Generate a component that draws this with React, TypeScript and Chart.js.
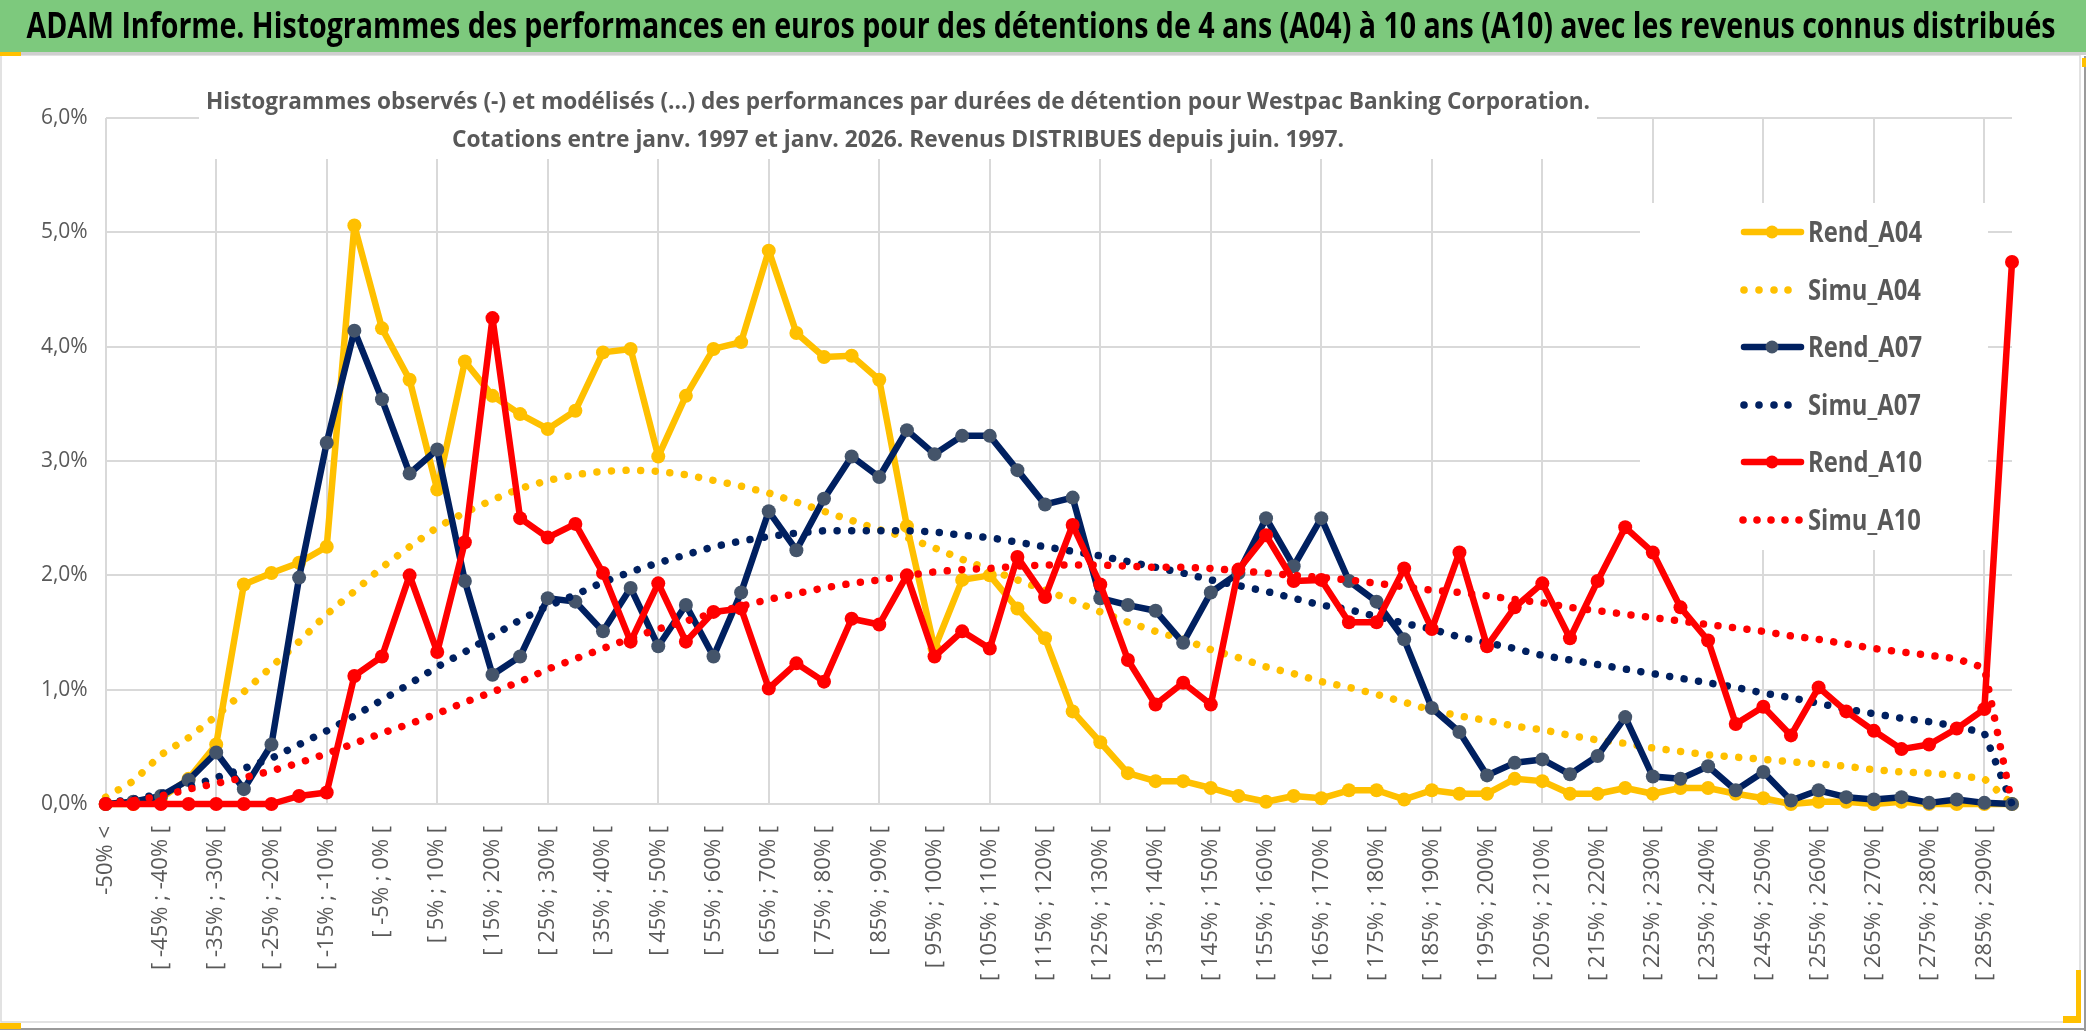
import React, { useEffect, useRef } from 'react';
import { Chart, registerables } from 'chart.js';

Chart.register(...registerables);

// ---------- DATA ----------
const categories = [
  '-50% <', '[ -50% ; -45% [', '[ -45% ; -40% [', '[ -40% ; -35% [', '[ -35% ; -30% [',
  '[ -30% ; -25% [', '[ -25% ; -20% [', '[ -20% ; -15% [', '[ -15% ; -10% [', '[ -10% ; -5% [',
  '[ -5% ; 0% [', '[ 0% ; 5% [', '[ 5% ; 10% [', '[ 10% ; 15% [', '[ 15% ; 20% [',
  '[ 20% ; 25% [', '[ 25% ; 30% [', '[ 30% ; 35% [', '[ 35% ; 40% [', '[ 40% ; 45% [',
  '[ 45% ; 50% [', '[ 50% ; 55% [', '[ 55% ; 60% [', '[ 60% ; 65% [', '[ 65% ; 70% [',
  '[ 70% ; 75% [', '[ 75% ; 80% [', '[ 80% ; 85% [', '[ 85% ; 90% [', '[ 90% ; 95% [',
  '[ 95% ; 100% [', '[ 100% ; 105% [', '[ 105% ; 110% [', '[ 110% ; 115% [', '[ 115% ; 120% [',
  '[ 120% ; 125% [', '[ 125% ; 130% [', '[ 130% ; 135% [', '[ 135% ; 140% [', '[ 140% ; 145% [',
  '[ 145% ; 150% [', '[ 150% ; 155% [', '[ 155% ; 160% [', '[ 160% ; 165% [', '[ 165% ; 170% [',
  '[ 170% ; 175% [', '[ 175% ; 180% [', '[ 180% ; 185% [', '[ 185% ; 190% [', '[ 190% ; 195% [',
  '[ 195% ; 200% [', '[ 200% ; 205% [', '[ 205% ; 210% [', '[ 210% ; 215% [', '[ 215% ; 220% [',
  '[ 220% ; 225% [', '[ 225% ; 230% [', '[ 230% ; 235% [', '[ 235% ; 240% [', '[ 240% ; 245% [',
  '[ 245% ; 250% [', '[ 250% ; 255% [', '[ 255% ; 260% [', '[ 260% ; 265% [', '[ 265% ; 270% [',
  '[ 270% ; 275% [', '[ 275% ; 280% [', '[ 280% ; 285% [', '[ 285% ; 290% [', '> 290%',
];

// values in percent
const rendA04 = [
  0, 0, 0.05, 0.22, 0.52, 1.92, 2.02, 2.11, 2.25, 5.06,
  4.16, 3.71, 2.75, 3.87, 3.57, 3.41, 3.28, 3.44, 3.95, 3.98,
  3.04, 3.57, 3.98, 4.04, 4.84, 4.12, 3.91, 3.92, 3.71, 2.43,
  1.36, 1.96, 2.0, 1.71, 1.45, 0.81, 0.54, 0.27, 0.2, 0.2,
  0.14, 0.07, 0.02, 0.07, 0.05, 0.12, 0.12, 0.04, 0.12, 0.09,
  0.09, 0.22, 0.2, 0.09, 0.09, 0.14, 0.09, 0.14, 0.14, 0.09,
  0.05, 0.0, 0.02, 0.02, 0.0, 0.02, 0.0, 0.0, 0.0, 0.0,
];
const simuA04 = [
  0.06, 0.2, 0.43, 0.58, 0.77, 0.98, 1.2, 1.42, 1.66, 1.86,
  2.07, 2.25, 2.42, 2.55, 2.66, 2.76, 2.83, 2.88, 2.91, 2.92,
  2.91, 2.88, 2.83, 2.78, 2.72, 2.64, 2.56, 2.48, 2.4, 2.33,
  2.24, 2.14, 2.05, 1.96, 1.87, 1.78, 1.68, 1.59, 1.51, 1.44,
  1.35, 1.28, 1.2, 1.14, 1.07, 1.02, 0.96, 0.89, 0.82, 0.77,
  0.73, 0.68, 0.65, 0.6, 0.56, 0.53, 0.49, 0.46, 0.43, 0.41,
  0.39, 0.37, 0.35, 0.33, 0.3, 0.28, 0.27, 0.25, 0.22, 0.0,
];
const rendA07 = [
  0, 0.02, 0.07, 0.21, 0.45, 0.13, 0.52, 1.98, 3.16, 4.14,
  3.54, 2.89, 3.1, 1.95, 1.13, 1.29, 1.8, 1.77, 1.51, 1.89,
  1.38, 1.74, 1.29, 1.85, 2.56, 2.22, 2.67, 3.04, 2.86, 3.27,
  3.06, 3.22, 3.22, 2.92, 2.62, 2.68, 1.8, 1.74, 1.69, 1.41,
  1.85, 2.02, 2.5, 2.08, 2.5, 1.95, 1.77, 1.44, 0.84, 0.63,
  0.25, 0.36, 0.39, 0.26, 0.42, 0.76, 0.24, 0.22, 0.33, 0.12,
  0.28, 0.03, 0.12, 0.06, 0.04, 0.06, 0.01, 0.04, 0.01, 0.0,
];
const simuA07 = [
  0.01, 0.04, 0.09, 0.15, 0.23, 0.31, 0.4, 0.52, 0.64, 0.77,
  0.91, 1.05, 1.2, 1.33, 1.47, 1.61, 1.73, 1.83, 1.94, 2.03,
  2.11, 2.18, 2.25, 2.3, 2.34, 2.37, 2.39, 2.39, 2.39, 2.39,
  2.38, 2.35, 2.33, 2.29, 2.25, 2.21, 2.17, 2.12, 2.07, 2.02,
  1.96, 1.91, 1.86, 1.8, 1.74, 1.7, 1.64, 1.58, 1.53, 1.46,
  1.41, 1.36, 1.3, 1.26, 1.22, 1.18, 1.14, 1.1, 1.06, 1.02,
  0.97, 0.93, 0.88, 0.83, 0.79, 0.75, 0.72, 0.68, 0.62, 0.0,
];
const rendA10 = [
  0, 0, 0, 0, 0, 0, 0, 0.07, 0.1, 1.12,
  1.29, 2.0, 1.33, 2.29, 4.25, 2.5, 2.33, 2.45, 2.02, 1.42,
  1.93, 1.42, 1.68, 1.71, 1.01, 1.23, 1.07, 1.62, 1.57, 2.0,
  1.29, 1.51, 1.36, 2.16, 1.81, 2.44, 1.92, 1.26, 0.87, 1.06,
  0.87, 2.05, 2.35, 1.95, 1.96, 1.59, 1.59, 2.06, 1.53, 2.2,
  1.38, 1.72, 1.93, 1.45, 1.95, 2.42, 2.2, 1.72, 1.43, 0.7,
  0.85, 0.6, 1.02, 0.81, 0.64, 0.48, 0.52, 0.66, 0.83, 4.74,
];
const simuA10 = [
  0.01, 0.03, 0.07, 0.13, 0.18, 0.23, 0.29, 0.36, 0.44, 0.53,
  0.62, 0.7, 0.79, 0.89, 0.98, 1.07, 1.18, 1.27, 1.36, 1.45,
  1.53, 1.6, 1.67, 1.73, 1.79, 1.84, 1.89, 1.93, 1.96, 2.0,
  2.03, 2.05, 2.06, 2.08, 2.09, 2.09, 2.09, 2.08, 2.07, 2.07,
  2.06, 2.04, 2.02, 2.0, 1.98, 1.96, 1.93, 1.9, 1.87, 1.85,
  1.82, 1.79, 1.76, 1.72, 1.69, 1.66, 1.63, 1.6, 1.57, 1.54,
  1.51, 1.47, 1.44, 1.4, 1.36, 1.33, 1.3, 1.27, 1.19, 0.0,
];

const yTickValues = [0, 1, 2, 3, 4, 5, 6];
const seriesNames = ['Rend_A04', 'Simu_A04', 'Rend_A07', 'Simu_A07', 'Rend_A10', 'Simu_A10'];
const mainTitle =
  'ADAM Informe. Histogrammes des performances en euros pour des détentions de 4 ans (A04) à 10 ans (A10) avec les revenus connus distribués';
const subtitleLines = [
  'Histogrammes observés (-) et modélisés (...) des performances par durées de détention pour Westpac Banking Corporation.',
  'Cotations entre janv. 1997 et janv. 2026. Revenus DISTRIBUES depuis juin. 1997.',
];

// ---------- STYLE ----------
const YELLOW = '#FFC000';
const NAVY = '#002060';
const NAVY_MARK = '#44546A';
const RED = '#FF0000';
const GRID = '#d9d9d9';
const TEXT = '#595959';
const FONT = "'Open Sans', 'Liberation Sans', sans-serif";

const W = 2086;
const H = 1031;
const AREA_LEFT = 105.7;
const AREA_RIGHT = 2012;
const AREA_TOP = 118;
const AREA_BOTTOM = 804;

function fittedText(
  ctx: CanvasRenderingContext2D,
  text: string,
  x: number,
  y: number,
  width: number,
  font: string,
  color: string,
  align: CanvasTextAlign,
) {
  ctx.save();
  ctx.font = font;
  const m = ctx.measureText(text).width;
  const s = width / m;
  ctx.translate(x, y);
  ctx.scale(s, 1);
  ctx.textAlign = align;
  ctx.textBaseline = 'alphabetic';
  ctx.fillStyle = color;
  ctx.fillText(text, 0, 0);
  ctx.restore();
}

const decorPlugin = {
  id: 'decor',
  beforeDraw(chart: any) {
    const ctx = chart.ctx as CanvasRenderingContext2D;
    ctx.save();
    ctx.fillStyle = '#ffffff';
    ctx.fillRect(0, 0, W, H);
    ctx.restore();
  },
  beforeDatasetsDraw(chart: any) {
    const ctx = chart.ctx as CanvasRenderingContext2D;
    ctx.save();
    ctx.fillStyle = '#ffffff';
    // subtitle box (covers top of plot area)
    ctx.fillRect(199, 84, 1398, 75);
    // legend box
    ctx.fillRect(1640, 203, 348, 347);
    ctx.restore();
  },
  afterDraw(chart: any) {
    const ctx = chart.ctx as CanvasRenderingContext2D;
    ctx.save();
    // frame
    ctx.strokeStyle = GRID;
    ctx.lineWidth = 1.5;
    ctx.strokeRect(1, 55, 2079, 967);
    ctx.strokeStyle = '#9a9a9a';
    ctx.lineWidth = 2;
    ctx.beginPath();
    ctx.moveTo(0, 1029);
    ctx.lineTo(W, 1029);
    ctx.moveTo(2085, 56);
    ctx.lineTo(2085, H);
    ctx.stroke();
    // green title bar
    ctx.fillStyle = '#7dc97d';
    ctx.fillRect(0, 0, W, 52);
    ctx.fillStyle = '#cfcfcf';
    ctx.fillRect(0, 52, W, 3);
    // small yellow marks
    ctx.fillStyle = YELLOW;
    ctx.fillRect(0, 52, 21, 4);
    ctx.fillRect(0, 1023, 21, 6);
    ctx.fillRect(2076, 970, 5, 53);
    ctx.fillRect(2063, 1016, 18, 7);
    ctx.fillRect(2082, 58, 4, 9);

    fittedText(ctx, mainTitle, 1041, 38, 2029, `bold 36px ${FONT}`, '#000000', 'center');
    fittedText(ctx, subtitleLines[0], 898, 109, 1384, `bold 23px ${FONT}`, TEXT, 'center');
    fittedText(ctx, subtitleLines[1], 898, 147, 892, `bold 23px ${FONT}`, TEXT, 'center');

    // legend
    const rowY = [232, 290, 347, 405, 462, 520];
    const styles = [
      { c: YELLOW, m: YELLOW, dotted: false },
      { c: YELLOW, m: YELLOW, dotted: true },
      { c: NAVY, m: NAVY_MARK, dotted: false },
      { c: NAVY, m: NAVY_MARK, dotted: true },
      { c: RED, m: RED, dotted: false },
      { c: RED, m: RED, dotted: true },
    ];
    ctx.font = `bold 28px ${FONT}`;
    const refW = ctx.measureText('Rend_A04').width;
    const sx = 114 / refW;
    seriesNames.forEach((name, i) => {
      const y = rowY[i];
      const st = styles[i];
      if (!st.dotted) {
        ctx.strokeStyle = st.c;
        ctx.lineWidth = 6.5;
        ctx.lineCap = 'round';
        ctx.setLineDash([]);
        ctx.beginPath();
        ctx.moveTo(1744, y);
        ctx.lineTo(1801, y);
        ctx.stroke();
        ctx.fillStyle = st.m;
        ctx.beginPath();
        ctx.arc(1772, y, 6.5, 0, Math.PI * 2);
        ctx.fill();
      } else {
        const xs = i === 5 ? [1743, 1757, 1771, 1785, 1799] : [1744, 1759, 1774, 1788];
        ctx.fillStyle = st.c;
        xs.forEach((x) => {
          ctx.beginPath();
          ctx.arc(x, y, 3.8, 0, Math.PI * 2);
          ctx.fill();
        });
      }
      ctx.save();
      ctx.translate(1808, y + 10);
      ctx.scale(sx, 1);
      ctx.fillStyle = TEXT;
      ctx.textAlign = 'left';
      ctx.textBaseline = 'alphabetic';
      ctx.font = `bold 28px ${FONT}`;
      ctx.fillText(name, 0, 0);
      ctx.restore();
    });
    ctx.restore();
  },
};

function makeDataset(label: string, data: number[], color: string, dotted: boolean, marker: string, order: number) {
  return {
    label,
    data,
    borderColor: color,
    backgroundColor: color,
    borderWidth: dotted ? 7.5 : 6.5,
    borderDash: dotted ? [0.01, 14.6] : [],
    borderCapStyle: 'round' as const,
    borderJoinStyle: 'round' as const,
    pointRadius: dotted ? 0 : 7,
    pointHoverRadius: dotted ? 0 : 7,
    pointBackgroundColor: marker,
    pointBorderColor: marker,
    pointBorderWidth: 0,
    tension: 0,
    clip: false as any,
    order,
  };
}

export default function App() {
  const ref = useRef<HTMLCanvasElement | null>(null);

  useEffect(() => {
    document.body.style.margin = '0';
    document.body.style.overflow = 'hidden';
    if (!ref.current) return;
    Chart.defaults.font.family = FONT;
    const chart = new Chart(ref.current, {
      type: 'line',
      data: {
        labels: categories,
        datasets: [
          makeDataset(seriesNames[0], rendA04, YELLOW, false, YELLOW, 6),
          makeDataset(seriesNames[1], simuA04, YELLOW, true, YELLOW, 5),
          makeDataset(seriesNames[2], rendA07, NAVY, false, NAVY_MARK, 4),
          makeDataset(seriesNames[3], simuA07, NAVY, true, NAVY, 3),
          makeDataset(seriesNames[4], rendA10, RED, false, RED, 2),
          makeDataset(seriesNames[5], simuA10, RED, true, RED, 1),
        ],
      },
      options: {
        responsive: false,
        animation: false,
        events: [],
        layout: { padding: { top: AREA_TOP, right: W - AREA_RIGHT, bottom: 0, left: 0 } },
        plugins: {
          legend: { display: false },
          title: { display: false },
          tooltip: { enabled: false },
        },
        scales: {
          x: {
            type: 'category',
            offset: false,
            grid: {
              offset: false,
              drawTicks: false,
              lineWidth: 2,
              color: (c: any) => (c.index % 4 === 0 ? GRID : 'rgba(0,0,0,0)'),
            },
            border: { display: true, color: GRID, width: 2 },
            ticks: {
              autoSkip: false,
              minRotation: 90,
              maxRotation: 90,
              padding: 22,
              color: TEXT,
              font: { family: FONT, size: 22 },
              callback: (_v: any, i: number) => (i % 2 === 0 ? categories[i] : ''),
            },
            afterFit: (s: any) => {
              s.height = H - AREA_BOTTOM;
            },
          },
          y: {
            type: 'linear',
            min: 0,
            max: 6,
            grid: { drawTicks: false, lineWidth: 2, color: GRID },
            border: { display: false },
            ticks: {
              stepSize: 1,
              padding: 18,
              color: TEXT,
              font: { family: FONT, size: 21 },
              callback: (v: any) => Number(v).toFixed(1).replace('.', ',') + '%',
            },
            afterBuildTicks: (s: any) => {
              s.ticks = yTickValues.map((v) => ({ value: v }));
            },
            afterFit: (s: any) => {
              s.width = AREA_LEFT;
            },
          },
        },
      },
      plugins: [decorPlugin],
    } as any);
    return () => chart.destroy();
  }, []);

  return (
    <div style={{ width: W, height: H, overflow: 'hidden' }}>
      <canvas ref={ref} width={W} height={H} style={{ width: W, height: H, display: 'block' }} />
    </div>
  );
}
